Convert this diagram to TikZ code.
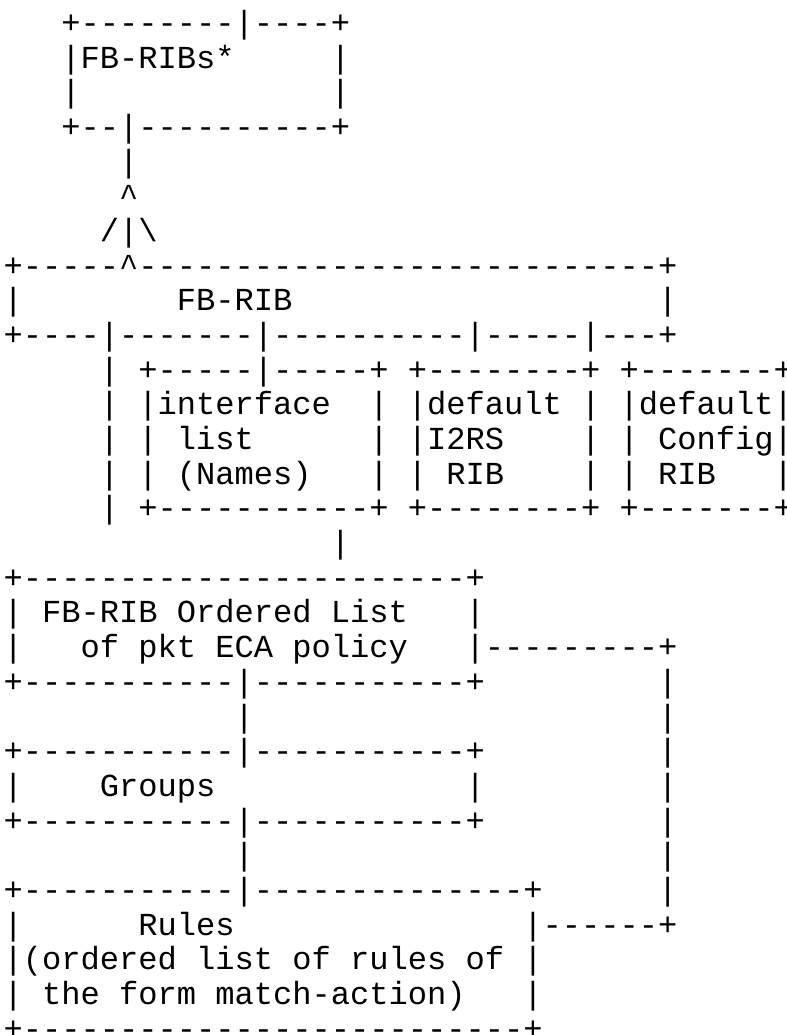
\documentclass[tikz,border=0pt]{standalone}
\usepackage{fontspec}
\setmonofont{Liberation Mono}

\begin{document}
\begin{tikzpicture}[x=0.75pt,
                    y=0.75pt,
                    asciirow/.style={anchor=base west,inner sep=0pt,
                                     font=\ttfamily\fontsize{24.06}{26}\selectfont}]

  \useasboundingbox (0,0) rectangle (786,-1035);

  % one node per text line of the figure
  \foreach \t [count=\r] in {
    ~~~+--------|----+,
    ~~~|FB-RIBs*~~~~~|,
    ~~~|~~~~~~~~~~~~~|,
    ~~~+--|----------+,
    ~~~~~~|,
    ~~~~~~\textasciicircum,
    ~~~~~/|\textbackslash,
    +-----\textasciicircum---------------------------+,
    |~~~~~~~~FB-RIB~~~~~~~~~~~~~~~~~~~|,
    +----|-------|----------|-----|---+,
    ~~~~~|~+-----|-----+~+--------+~+-------+,
    ~~~~~|~|interface~~|~|default~|~|default|,
    ~~~~~|~|~list~~~~~~|~|I2RS~~~~|~|~Config|,
    ~~~~~|~|~(Names)~~~|~|~RIB~~~~|~|~RIB~~~|,
    ~~~~~|~+-----------+~+--------+~+-------+,
    ~~~~~~~~~~~~~~~~~|,
    +-----------------------+,
    |~FB-RIB~Ordered~List~~~|,
    |~~~of~pkt~ECA~policy~~~|---------+,
    +-----------|-----------+~~~~~~~~~|,
    ~~~~~~~~~~~~|~~~~~~~~~~~~~~~~~~~~~|,
    +-----------|-----------+~~~~~~~~~|,
    |~~~~Groups~~~~~~~~~~~~~|~~~~~~~~~|,
    +-----------|-----------+~~~~~~~~~|,
    ~~~~~~~~~~~~|~~~~~~~~~~~~~~~~~~~~~|,
    +-----------|--------------+~~~~~~|,
    |~~~~~~Rules~~~~~~~~~~~~~~~|------+,
    |(ordered~list~of~rules~of~|,
    |~the~form~match-action)~~~|,
    +--------------------------+}
    \node[asciirow] (r\r) at (3.4,{-33.6-(\r-1)*34.67}) {\t};
\end{tikzpicture}
\end{document}
